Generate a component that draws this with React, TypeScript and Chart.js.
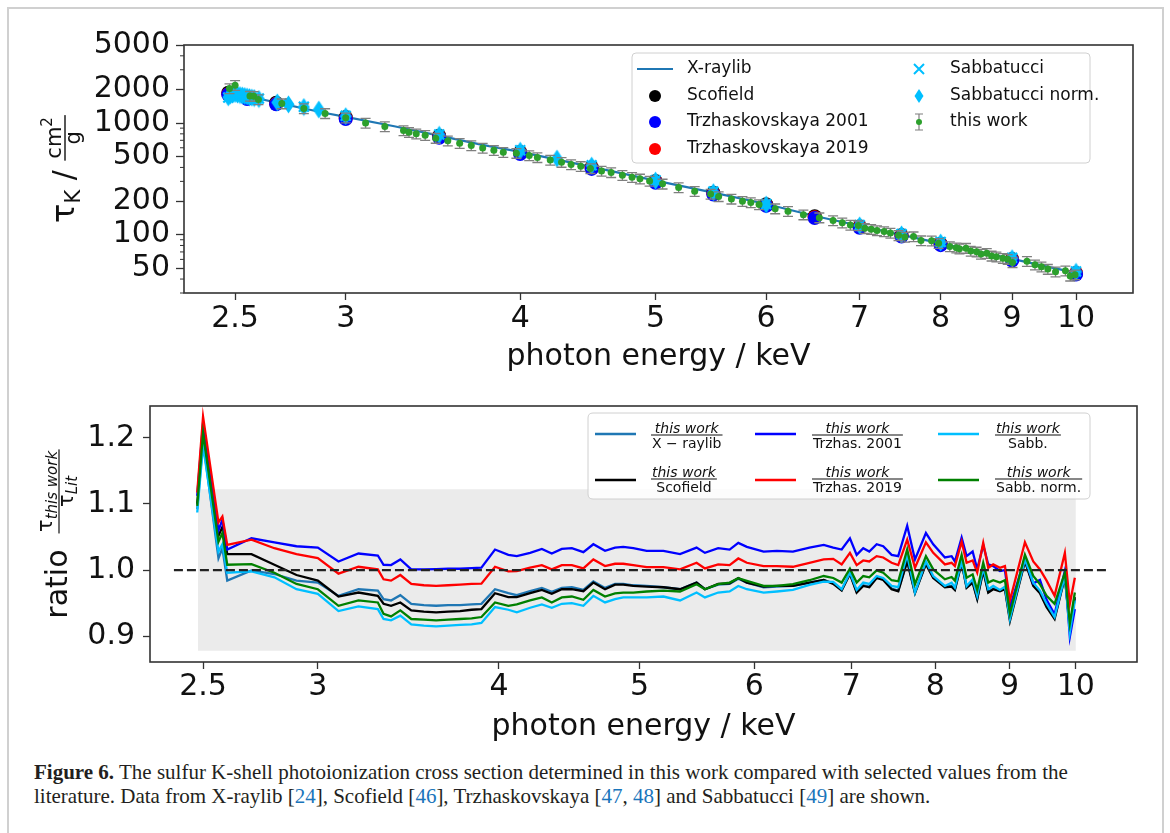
import React, { useEffect, useRef } from 'react';
import { Chart, registerables } from 'chart.js';

Chart.register(...registerables);

const FONT = '"DejaVu Sans", "Noto Sans", sans-serif';

// ---------------- top panel data ----------------
const xraylibEnergy = [2.472, 2.5, 2.6, 2.7, 2.8, 2.9, 3.0, 3.25, 3.5, 3.75, 4.0, 4.5, 5.0, 5.5, 6.0, 6.5, 7.0, 7.5, 8.0, 8.5, 9.0, 9.5, 10.0];
const xraylibTau = [1880, 1835, 1650, 1490, 1350, 1230, 1135, 935, 770, 640, 552, 405, 305, 238, 188, 147, 120, 99.5, 83.5, 71, 60.6, 52.3, 45.5];

const litEnergy = [2.472, 2.55, 2.675, 3.0, 3.5, 4.0, 4.5, 5.0, 5.5, 6.0, 6.5, 7.0, 7.5, 8.0, 9.0, 10.0];
const scofieldTau = [1870, 1700, 1520, 1130, 770, 550, 402, 303, 237, 187, 146, 119, 99, 83, 60.5, 45.3];
const trzh2001Tau = [1800, 1640, 1470, 1085, 738, 528, 388, 292, 229, 181, 141, 115, 96, 80.5, 58.5, 44];
const trzh2019Tau = [1810, 1655, 1485, 1100, 750, 537, 393, 296, 232, 183, 143, 117, 97.5, 81.5, 59.5, 44.8];

const sabbEnergy = [2.472, 2.5, 2.55, 2.6, 2.7, 2.8, 3.0, 3.5, 4.0, 4.5, 5.0, 5.5, 6.0, 7.0, 7.5, 8.0, 9.0, 10.0];
const sabbTau = [1690, 1830, 1735, 1655, 1500, 1400, 1160, 790, 570, 418, 308, 243, 188, 122, 101.5, 86, 62, 46.8];

const sabbNormEnergy = [2.472, 2.48, 2.49, 2.5, 2.51, 2.52, 2.53, 2.54, 2.55, 2.56, 2.57, 2.58, 2.6, 2.68, 2.73, 2.8, 2.87, 3.0, 3.5, 4.0, 4.25, 4.5, 5.0, 5.5, 6.0, 7.0, 7.5, 8.0, 9.0, 10.0];
const sabbNormTau = [1700, 1760, 1800, 1820, 1800, 1780, 1760, 1745, 1725, 1705, 1690, 1675, 1640, 1530, 1470, 1390, 1320, 1150, 785, 565, 480, 415, 305, 240, 186, 121, 100.5, 85, 61.5, 46.5];

const thisWorkEnergy = [
  2.477, 2.5, 2.562, 2.578, 2.598, 2.7, 2.8, 2.9, 3.0, 3.1, 3.2, 3.3, 3.33, 3.37, 3.42, 3.48, 3.55, 3.62, 3.69, 3.76, 3.83, 3.89, 3.975, 4.06,
  4.115, 4.203, 4.282, 4.35, 4.42, 4.491, 4.574, 4.647, 4.734, 4.81, 4.873, 4.951, 5.058, 5.194, 5.333, 5.475, 5.548, 5.666, 5.77, 5.85, 5.93, 6.09, 6.22, 6.38, 6.55, 6.7,
  6.802, 6.894, 6.985, 7.06, 7.134, 7.203, 7.288, 7.364, 7.463, 7.542, 7.65, 7.745, 7.881, 7.973, 8.122, 8.209, 8.252, 8.341, 8.407, 8.488, 8.55, 8.632, 8.701, 8.77, 8.864, 8.935, 9.006, 9.223, 9.346, 9.446, 9.546, 9.668, 9.827, 9.905, 9.984,
];
const thisWorkTau = [
  2040, 2178, 1742, 1739, 1624, 1492, 1350, 1220, 1113, 1001, 932, 858, 827, 800, 777, 732, 694, 659, 628, 598, 570, 548, 537, 511,
  492, 467, 446, 425, 409, 392, 372, 361, 340, 327, 316, 302, 285, 264, 245, 231, 220, 209, 199, 194, 186, 171, 162, 151, 142, 134,
  128, 122, 120.5, 113.8, 111.8, 108.7, 106.8, 103.4, 98.5, 95.3, 96.0, 88.4, 88.1, 83.7, 78.4, 76.3, 74.8, 75.7, 71.4, 70.1, 67.0, 68.1, 64.5, 63.4, 61.4, 60.3, 56.4, 57.7, 53.7, 51.5, 49.1, 46.5, 47.4, 42.7, 43.8,
];
const thisWorkRelUncertainty = 0.1;

// ---------------- bottom panel data (ratios on thisWorkEnergy) ----------------
const ratioXraylib = [
  1.092, 1.195, 1.018, 1.033, 0.984, 0.9995, 0.994, 0.984, 0.981, 0.961, 0.971, 0.969, 0.956, 0.954, 0.962, 0.949, 0.947, 0.946, 0.947, 0.947, 0.948, 0.949, 0.971, 0.965,
  0.962, 0.968, 0.973, 0.967, 0.973, 0.974, 0.970, 0.983, 0.973, 0.979, 0.979, 0.977, 0.976, 0.974, 0.971, 0.981, 0.971, 0.978, 0.979, 0.987, 0.981, 0.974, 0.975, 0.976, 0.981, 0.985,
  0.980, 0.970, 0.995, 0.967, 0.977, 0.975, 0.989, 0.986, 0.972, 0.969, 1.014, 0.966, 1.010, 0.989, 0.975, 0.976, 0.971, 1.012, 0.974, 0.982, 0.957, 1.000, 0.967, 0.972, 0.969, 0.972, 0.926, 1.014, 0.977, 0.966, 0.946, 0.928, 0.990, 0.912, 0.957,
];
const ratioScofield = [
  1.100, 1.203, 1.052, 1.065, 1.024, 1.024, 1.008, 0.9925, 0.984, 0.960, 0.966, 0.961, 0.949, 0.946, 0.951, 0.939, 0.937, 0.936, 0.937, 0.938, 0.940, 0.941, 0.965, 0.959,
  0.959, 0.965, 0.970, 0.964, 0.971, 0.971, 0.968, 0.981, 0.971, 0.978, 0.978, 0.976, 0.975, 0.974, 0.971, 0.981, 0.971, 0.979, 0.980, 0.988, 0.981, 0.975, 0.976, 0.976, 0.981, 0.985,
  0.979, 0.969, 0.994, 0.966, 0.976, 0.974, 0.988, 0.985, 0.971, 0.968, 1.013, 0.965, 1.009, 0.988, 0.974, 0.975, 0.970, 1.011, 0.973, 0.981, 0.956, 0.999, 0.966, 0.971, 0.968, 0.971, 0.923, 1.013, 0.976, 0.965, 0.944, 0.926, 0.989, 0.915, 0.959,
];
const ratioTrzh2001 = [
  1.112, 1.222, 1.060, 1.076, 1.031, 1.048, 1.042, 1.036, 1.034, 1.013, 1.025, 1.022, 1.008, 1.0075, 1.016, 1.001, 1.001, 1.0015, 1.002, 1.002, 1.003, 1.0035, 1.031, 1.023,
  1.021, 1.026, 1.032, 1.025, 1.032, 1.033, 1.027, 1.039, 1.029, 1.034, 1.035, 1.033, 1.029, 1.029, 1.024, 1.034, 1.026, 1.033, 1.031, 1.041, 1.035, 1.028, 1.029, 1.028, 1.034, 1.038,
  1.034, 1.031, 1.048, 1.023, 1.033, 1.028, 1.039, 1.036, 1.023, 1.021, 1.067, 1.016, 1.056, 1.039, 1.019, 1.021, 1.013, 1.049, 1.021, 1.028, 1.001, 1.038, 1.0085, 1.006, 0.9985, 1.000, 0.944, 1.018, 0.980, 0.985, 0.955, 0.933, 0.999, 0.899, 0.941,
];
const ratioTrzh2019 = [
  1.117, 1.232, 1.072, 1.081, 1.038, 1.046, 1.033, 1.024, 1.018, 0.9945, 1.005, 1.001, 0.986, 0.984, 0.9925, 0.979, 0.977, 0.976, 0.977, 0.978, 0.979, 0.9795, 1.005, 0.998,
  0.9985, 1.0035, 1.0075, 1.001, 1.0075, 1.0075, 1.0025, 1.016, 1.006, 1.0095, 1.0095, 1.0075, 1.0045, 1.0045, 1.001, 1.011, 1.0025, 1.0085, 1.0075, 1.0175, 1.011, 1.006, 1.006, 1.005, 1.011, 1.016,
  1.017, 1.0085, 1.026, 1.0075, 1.0145, 1.013, 1.021, 1.019, 1.011, 1.0075, 1.046, 1.0035, 1.042, 1.026, 1.0085, 1.011, 1.006, 1.043, 1.011, 1.0145, 0.996, 1.041, 1.0035, 1.0085, 1.0035, 1.006, 0.954, 1.042, 1.013, 1.001, 0.984, 0.961, 1.026, 0.949, 0.9885,
];
const ratioSabb = [
  1.087, 1.188, 1.028, 1.039, 0.996, 0.998, 0.989, 0.971, 0.964, 0.938, 0.945, 0.941, 0.926, 0.924, 0.931, 0.918, 0.916, 0.915, 0.916, 0.917, 0.918, 0.920, 0.944, 0.940,
  0.936, 0.943, 0.948, 0.943, 0.949, 0.950, 0.946, 0.961, 0.951, 0.956, 0.9587, 0.9587, 0.9587, 0.960, 0.954, 0.966, 0.9587, 0.966, 0.9676, 0.976, 0.971, 0.966, 0.9676, 0.970, 0.9776, 0.9825,
  0.982, 0.971, 0.996, 0.970, 0.981, 0.979, 0.991, 0.988, 0.976, 0.974, 1.023, 0.966, 1.013, 0.991, 0.976, 0.981, 0.9736, 1.013, 0.976, 0.986, 0.961, 1.0035, 0.971, 0.976, 0.970, 0.975, 0.926, 1.016, 0.981, 0.969, 0.949, 0.929, 0.991, 0.906, 0.954,
];
const ratioSabbNorm = [
  1.097, 1.207, 1.043, 1.056, 1.008, 1.009, 0.996, 0.979, 0.971, 0.946, 0.954, 0.951, 0.934, 0.930, 0.939, 0.926, 0.925, 0.924, 0.925, 0.926, 0.927, 0.929, 0.951, 0.946,
  0.948, 0.954, 0.9587, 0.951, 0.9587, 0.960, 0.955, 0.970, 0.960, 0.9646, 0.966, 0.966, 0.9676, 0.969, 0.9676, 0.9786, 0.971, 0.9786, 0.981, 0.9876, 0.9836, 0.976, 0.976, 0.9786, 0.9846, 0.991,
  0.988, 0.981, 1.002, 0.981, 0.991, 0.989, 0.9995, 0.996, 0.9846, 0.983, 1.031, 0.9786, 1.021, 1.001, 0.986, 0.9895, 0.984, 1.023, 0.9885, 0.9935, 0.970, 1.011, 0.981, 0.9846, 0.981, 0.9846, 0.934, 1.023, 0.991, 0.9786, 0.961, 0.949, 0.996, 0.919, 0.966,
];

const bandEnergy = [2.48, 10.0];
const bandUpper = [1.122, 1.122];
const bandLower = [0.878, 0.878];
const refLineEnergy = [2.387, 10.55];
const refLineRatio = [1.0, 1.0];

// ---------------- ticks ----------------
const energyTicks = [2.5, 3, 4, 5, 6, 7, 8, 9, 10];
const tauTicks = [50, 100, 200, 500, 1000, 2000, 5000];
const tauMinorTicks = [30, 40, 60, 70, 80, 90, 300, 400, 600, 700, 800, 900, 3000, 4000];
const ratioTicks = [0.9, 1.0, 1.1, 1.2];

const C_XRAY = '#1f77b4';
const C_SAB = '#00bfff';
const TXT = '#111111';

const pts = (xs: number[], ys: number[]) => xs.map((x, i) => ({ x, y: ys[i] }));

function setFont(ctx: CanvasRenderingContext2D, size: number, style = '') {
  ctx.font = `${style} ${size}px ${FONT}`.trim();
}

function roundRect(ctx: CanvasRenderingContext2D, x: number, y: number, w: number, h: number, r: number) {
  ctx.beginPath();
  ctx.moveTo(x + r, y);
  ctx.lineTo(x + w - r, y);
  ctx.quadraticCurveTo(x + w, y, x + w, y + r);
  ctx.lineTo(x + w, y + h - r);
  ctx.quadraticCurveTo(x + w, y + h, x + w - r, y + h);
  ctx.lineTo(x + r, y + h);
  ctx.quadraticCurveTo(x, y + h, x, y + h - r);
  ctx.lineTo(x, y + r);
  ctx.quadraticCurveTo(x, y, x + r, y);
  ctx.closePath();
}

function diamondPath(ctx: CanvasRenderingContext2D, cx: number, cy: number, hw: number, hh: number) {
  ctx.beginPath();
  ctx.moveTo(cx, cy - hh);
  ctx.lineTo(cx + hw, cy);
  ctx.lineTo(cx, cy + hh);
  ctx.lineTo(cx - hw, cy);
  ctx.closePath();
}

function makeDiamond(): HTMLCanvasElement {
  const c = document.createElement('canvas');
  c.width = 13;
  c.height = 19;
  const ctx = c.getContext('2d')!;
  ctx.fillStyle = C_SAB;
  diamondPath(ctx, 6.5, 9.5, 6, 9);
  ctx.fill();
  return c;
}

function drawFrame(chart: any) {
  const { ctx, chartArea: a } = chart;
  ctx.save();
  ctx.strokeStyle = '#333333';
  ctx.lineWidth = 1.6;
  ctx.strokeRect(a.left, a.top, a.right - a.left, a.bottom - a.top);
  ctx.restore();
}

function commonTickFont() {
  return { family: FONT, size: 30 };
}

// ---------------- top chart ----------------
function buildTop(diamond: HTMLCanvasElement): any {
  const topPlugin = {
    id: 'topDecor',
    beforeDatasetDraw(chart: any, args: any) {
      if (args.index !== 6) return;
      const { ctx } = chart;
      const xs = chart.scales.x;
      const ys = chart.scales.y;
      ctx.save();
      ctx.strokeStyle = '#7f7f7f';
      ctx.lineWidth = 1.3;
      thisWorkEnergy.forEach((e, i) => {
        const t = thisWorkTau[i];
        const px = xs.getPixelForValue(e);
        const y1 = ys.getPixelForValue(t * (1 + thisWorkRelUncertainty));
        const y2 = ys.getPixelForValue(t * (1 - thisWorkRelUncertainty));
        ctx.beginPath();
        ctx.moveTo(px, y1);
        ctx.lineTo(px, y2);
        ctx.moveTo(px - 5, y1);
        ctx.lineTo(px + 5, y1);
        ctx.moveTo(px - 5, y2);
        ctx.lineTo(px + 5, y2);
        ctx.stroke();
      });
      ctx.restore();
    },
    afterDatasetsDraw(chart: any) {
      drawFrame(chart);
      const { ctx, chartArea: a } = chart;
      const ys = chart.scales.y;
      ctx.save();
      ctx.strokeStyle = '#333333';
      ctx.lineWidth = 1;
      tauMinorTicks.forEach((v) => {
        const py = ys.getPixelForValue(v);
        ctx.beginPath();
        ctx.moveTo(a.left, py);
        ctx.lineTo(a.left - 4, py);
        ctx.stroke();
      });
      ctx.restore();
    },
    afterDraw(chart: any) {
      const { ctx, chartArea: a } = chart;
      ctx.save();
      // x title
      setFont(ctx, 30);
      ctx.fillStyle = TXT;
      ctx.textAlign = 'center';
      ctx.textBaseline = 'alphabetic';
      ctx.fillText('photon energy / keV', (a.left + a.right) / 2, 365);

      // y title (rotated)
      ctx.save();
      ctx.translate(61, (a.top + a.bottom) / 2);
      ctx.rotate(-Math.PI / 2);
      ctx.textAlign = 'left';
      const base = 13;
      setFont(ctx, 32);
      const wTau = ctx.measureText('τ').width;
      setFont(ctx, 30);
      const wSl = ctx.measureText(' / ').width;
      setFont(ctx, 21);
      const wK = ctx.measureText('K').width;
      const wcm = ctx.measureText('cm').width;
      const wg = ctx.measureText('g').width;
      setFont(ctx, 15);
      const w2 = ctx.measureText('2').width;
      const wNum = wcm + w2;
      const wFrac = Math.max(wNum, wg) + 4;
      const total = wTau + wK + wSl + wFrac;
      let x = -total / 2;
      setFont(ctx, 32);
      ctx.fillText('τ', x, base);
      x += wTau;
      setFont(ctx, 21);
      ctx.fillText('K', x, base + 6);
      x += wK;
      setFont(ctx, 30);
      ctx.fillText(' / ', x, base);
      x += wSl;
      const barY = base - 9;
      ctx.fillRect(x, barY - 0.7, wFrac, 1.4);
      const nx = x + (wFrac - wNum) / 2;
      setFont(ctx, 21);
      ctx.fillText('cm', nx, barY - 4);
      setFont(ctx, 15);
      ctx.fillText('2', nx + wcm, barY - 13);
      setFont(ctx, 21);
      ctx.fillText('g', x + (wFrac - wg) / 2, barY + 15);
      ctx.restore();

      // legend
      roundRect(ctx, 632, 53, 458, 110, 4);
      ctx.fillStyle = 'rgba(255,255,255,0.85)';
      ctx.fill();
      ctx.strokeStyle = '#d0d0d0';
      ctx.lineWidth = 1;
      ctx.stroke();

      const rows = [69, 96, 122, 149];
      setFont(ctx, 17);
      ctx.textAlign = 'left';
      ctx.textBaseline = 'middle';
      const labels1 = ['X-raylib', 'Scofield', 'Trzhaskovskaya 2001', 'Trzhaskovskaya 2019'];
      const labels2 = ['Sabbatucci', 'Sabbatucci norm.', 'this work'];
      ctx.strokeStyle = C_XRAY;
      ctx.lineWidth = 2.2;
      ctx.beginPath();
      ctx.moveTo(637, rows[0]);
      ctx.lineTo(673, rows[0]);
      ctx.stroke();
      const dotCols = ['#000000', '#0000ff', '#ff0000'];
      dotCols.forEach((c, i) => {
        ctx.fillStyle = c;
        ctx.beginPath();
        ctx.arc(655, rows[i + 1], 6, 0, Math.PI * 2);
        ctx.fill();
      });
      ctx.strokeStyle = C_SAB;
      ctx.lineWidth = 2;
      ctx.beginPath();
      ctx.moveTo(914, rows[0] - 5);
      ctx.lineTo(924, rows[0] + 5);
      ctx.moveTo(924, rows[0] - 5);
      ctx.lineTo(914, rows[0] + 5);
      ctx.stroke();
      ctx.fillStyle = C_SAB;
      diamondPath(ctx, 919, rows[1], 4.5, 7);
      ctx.fill();
      ctx.strokeStyle = '#7f7f7f';
      ctx.lineWidth = 1.2;
      ctx.beginPath();
      ctx.moveTo(919, rows[2] - 8);
      ctx.lineTo(919, rows[2] + 8);
      ctx.moveTo(915, rows[2] - 8);
      ctx.lineTo(923, rows[2] - 8);
      ctx.moveTo(915, rows[2] + 8);
      ctx.lineTo(923, rows[2] + 8);
      ctx.stroke();
      ctx.fillStyle = '#2ca02c';
      ctx.beginPath();
      ctx.arc(919, rows[2], 3, 0, Math.PI * 2);
      ctx.fill();

      ctx.fillStyle = TXT;
      labels1.forEach((l, i) => ctx.fillText(l, 687, rows[i]));
      labels2.forEach((l, i) => ctx.fillText(l, 950, rows[i]));
      ctx.restore();
    },
  };

  return {
    type: 'scatter',
    data: {
      datasets: [
        { label: 'X-raylib', data: pts(xraylibEnergy, xraylibTau), showLine: true, borderColor: C_XRAY, borderWidth: 2.2, pointRadius: 0, order: 7 },
        { label: 'Scofield', data: pts(litEnergy, scofieldTau), pointRadius: 7, backgroundColor: '#000000', borderWidth: 0, order: 6 },
        { label: 'Trzhaskovskaya 2001', data: pts(litEnergy, trzh2001Tau), pointRadius: 7, backgroundColor: '#0000ff', borderWidth: 0, order: 4 },
        { label: 'Trzhaskovskaya 2019', data: pts(litEnergy, trzh2019Tau), pointRadius: 7, backgroundColor: '#ff0000', borderWidth: 0, order: 5 },
        { label: 'Sabbatucci', data: pts(sabbEnergy, sabbTau), pointStyle: 'crossRot', pointRadius: 7, borderColor: C_SAB, backgroundColor: C_SAB, borderWidth: 2.2, order: 3 },
        { label: 'Sabbatucci norm.', data: pts(sabbNormEnergy, sabbNormTau), pointStyle: diamond, pointRadius: 8, order: 2 },
        { label: 'this work', data: pts(thisWorkEnergy, thisWorkTau), pointRadius: 3.5, backgroundColor: '#2ca02c', borderWidth: 0, order: 1 },
      ],
    },
    options: {
      responsive: false,
      animation: false,
      devicePixelRatio: 1,
      layout: { padding: { left: 0, right: 37, top: 45, bottom: 0 } },
      plugins: { legend: { display: false }, tooltip: { enabled: false } },
      events: [],
      scales: {
        x: {
          type: 'logarithmic',
          min: 2.298,
          max: 10.985,
          bounds: 'data',
          afterBuildTicks: (s: any) => {
            s.ticks = energyTicks.map((v) => ({ value: v }));
          },
          afterFit: (s: any) => {
            s.height = 87;
          },
          ticks: { callback: (v: any) => String(v), font: commonTickFont(), color: TXT, padding: 1, maxRotation: 0, autoSkip: false },
          grid: { drawOnChartArea: false, drawTicks: true, tickLength: 7, tickColor: '#333333', tickWidth: 1.3 },
          border: { display: false },
        },
        y: {
          type: 'logarithmic',
          min: 30,
          max: 5000,
          bounds: 'data',
          afterBuildTicks: (s: any) => {
            s.ticks = tauTicks.map((v) => ({ value: v }));
          },
          afterFit: (s: any) => {
            s.width = 184;
          },
          ticks: { callback: (v: any) => String(v), font: commonTickFont(), color: TXT, padding: 6, autoSkip: false },
          grid: { drawOnChartArea: false, drawTicks: true, tickLength: 8, tickColor: '#333333', tickWidth: 1.3 },
          border: { display: false },
        },
      },
    },
    plugins: [topPlugin],
  };
}

// ---------------- bottom chart ----------------
function buildBottom(): any {
  const legendItems = [
    { color: C_XRAY, den: 'X − raylib', lineX: 595, fracX: 651, row: 0 },
    { color: '#000000', den: 'Scofield', lineX: 595, fracX: 651, row: 1 },
    { color: '#0000ff', den: 'Trzhas. 2001', lineX: 755, fracX: 812, row: 0 },
    { color: '#ff0000', den: 'Trzhas. 2019', lineX: 755, fracX: 812, row: 1 },
    { color: C_SAB, den: 'Sabb.', lineX: 938, fracX: 995, row: 0 },
    { color: '#008000', den: 'Sabb. norm.', lineX: 938, fracX: 995, row: 1 },
  ];

  const botPlugin = {
    id: 'botDecor',
    afterDatasetsDraw(chart: any) {
      drawFrame(chart);
    },
    afterDraw(chart: any) {
      const { ctx, chartArea: a } = chart;
      ctx.save();
      setFont(ctx, 30);
      ctx.fillStyle = TXT;
      ctx.textAlign = 'center';
      ctx.textBaseline = 'alphabetic';
      ctx.fillText('photon energy / keV', (a.left + a.right) / 2, 355);

      // y title
      ctx.save();
      ctx.translate(55, (a.top + a.bottom) / 2);
      ctx.rotate(-Math.PI / 2);
      ctx.textAlign = 'left';
      const base = 12;
      setFont(ctx, 30);
      const wRatio = ctx.measureText('ratio').width;
      setFont(ctx, 21);
      const wTau = ctx.measureText('τ').width;
      setFont(ctx, 15, 'italic');
      const wSubN = ctx.measureText('this work').width;
      const wSubD = ctx.measureText('Lit').width;
      const wNum = wTau + wSubN;
      const wDen = wTau + wSubD;
      const wFrac = Math.max(wNum, wDen) + 3;
      const gap = 16;
      let x = -(wRatio + gap + wFrac) / 2;
      setFont(ctx, 30);
      ctx.fillText('ratio', x, base);
      x += wRatio + gap;
      const barY = base - 8;
      ctx.fillRect(x, barY - 0.6, wFrac, 1.2);
      const nx = x + (wFrac - wNum) / 2;
      setFont(ctx, 21);
      ctx.fillText('τ', nx, barY - 7);
      setFont(ctx, 15, 'italic');
      ctx.fillText('this work', nx + wTau, barY - 2.5);
      const dx = x + (wFrac - wDen) / 2;
      setFont(ctx, 21);
      ctx.fillText('τ', dx, barY + 14);
      setFont(ctx, 15, 'italic');
      ctx.fillText('Lit', dx + wTau, barY + 18);
      ctx.restore();

      // legend
      roundRect(ctx, 588, 33, 502, 86, 5);
      ctx.fillStyle = 'rgba(255,255,255,0.82)';
      ctx.fill();
      ctx.strokeStyle = '#d0d0d0';
      ctx.lineWidth = 1;
      ctx.stroke();
      const lineYs = [54, 100];
      const barYs = [55, 99];
      legendItems.forEach((it) => {
        ctx.strokeStyle = it.color;
        ctx.lineWidth = 2.4;
        ctx.beginPath();
        ctx.moveTo(it.lineX, lineYs[it.row]);
        ctx.lineTo(it.lineX + 41, lineYs[it.row]);
        ctx.stroke();
        const by = barYs[it.row];
        setFont(ctx, 14, 'italic');
        const wn = ctx.measureText('this work').width;
        setFont(ctx, 14);
        const wd = ctx.measureText(it.den).width;
        const w = Math.max(wn, wd) + 2;
        ctx.fillStyle = TXT;
        ctx.textAlign = 'center';
        ctx.textBaseline = 'alphabetic';
        setFont(ctx, 14, 'italic');
        ctx.fillText('this work', it.fracX + w / 2, by - 2.5);
        setFont(ctx, 14);
        ctx.fillText(it.den, it.fracX + w / 2, by + 12.5);
        ctx.fillRect(it.fracX, by - 0.5, w, 1);
      });
      ctx.restore();
    },
  };

  const line = (label: string, ys: number[], color: string, order: number) => ({
    label,
    data: pts(thisWorkEnergy, ys),
    showLine: true,
    borderColor: color,
    backgroundColor: color,
    borderWidth: 2.3,
    pointRadius: 0,
    order,
  });

  return {
    type: 'scatter',
    data: {
      datasets: [
        { label: 'band upper', data: pts(bandEnergy, bandUpper), showLine: true, borderColor: 'rgba(0,0,0,0)', borderWidth: 0, pointRadius: 0, fill: '+1', backgroundColor: '#ebebeb', order: 20 },
        { label: 'band lower', data: pts(bandEnergy, bandLower), showLine: true, borderColor: 'rgba(0,0,0,0)', borderWidth: 0, pointRadius: 0, order: 21 },
        line('this work / X-raylib', ratioXraylib, C_XRAY, 8),
        line('this work / Scofield', ratioScofield, '#000000', 7),
        line('this work / Trzhas. 2001', ratioTrzh2001, '#0000ff', 6),
        line('this work / Trzhas. 2019', ratioTrzh2019, '#ff0000', 5),
        line('this work / Sabb.', ratioSabb, C_SAB, 4),
        line('this work / Sabb. norm.', ratioSabbNorm, '#008000', 3),
        { label: 'unity', data: pts(refLineEnergy, refLineRatio), showLine: true, borderColor: '#222222', borderWidth: 2.3, borderDash: [9, 4], pointRadius: 0, order: 0 },
      ],
    },
    options: {
      responsive: false,
      animation: false,
      devicePixelRatio: 1,
      layout: { padding: { left: 0, right: 33, top: 22, bottom: 0 } },
      plugins: { legend: { display: false }, tooltip: { enabled: false } },
      events: [],
      scales: {
        x: {
          type: 'logarithmic',
          min: 2.298,
          max: 11.02,
          bounds: 'data',
          afterBuildTicks: (s: any) => {
            s.ticks = energyTicks.map((v) => ({ value: v }));
          },
          afterFit: (s: any) => {
            s.height = 88;
          },
          ticks: { callback: (v: any) => String(v), font: commonTickFont(), color: TXT, padding: 0, maxRotation: 0, autoSkip: false },
          grid: { drawOnChartArea: false, drawTicks: true, tickLength: 7, tickColor: '#333333', tickWidth: 1.3 },
          border: { display: false },
        },
        y: {
          type: 'linear',
          min: 0.861,
          max: 1.248,
          bounds: 'data',
          afterBuildTicks: (s: any) => {
            s.ticks = ratioTicks.map((v) => ({ value: v }));
          },
          afterFit: (s: any) => {
            s.width = 150;
          },
          ticks: { callback: (v: any) => Number(v).toFixed(1), font: commonTickFont(), color: TXT, padding: 8, autoSkip: false },
          grid: { drawOnChartArea: false, drawTicks: true, tickLength: 7, tickColor: '#333333', tickWidth: 1.3 },
          border: { display: false },
        },
      },
    },
    plugins: [botPlugin],
  };
}

export default function App() {
  const topRef = useRef<HTMLCanvasElement>(null);
  const botRef = useRef<HTMLCanvasElement>(null);

  useEffect(() => {
    const diamond = makeDiamond();
    const top = new Chart(topRef.current as HTMLCanvasElement, buildTop(diamond));
    const bot = new Chart(botRef.current as HTMLCanvasElement, buildBottom());
    return () => {
      top.destroy();
      bot.destroy();
    };
  }, []);

  const ref = { color: '#1a75bb' };
  return (
    <div style={{ position: 'absolute', left: 0, top: 0, width: 1170, height: 833, overflow: 'hidden', background: '#ffffff' }}>
      <div style={{ position: 'absolute', left: 7, top: 7, width: 1153, height: 900, border: '2px solid #d0d0d0' }} />
      <canvas ref={topRef} width={1170} height={380} style={{ position: 'absolute', left: 0, top: 0, width: 1170, height: 380 }} />
      <canvas ref={botRef} width={1170} height={370} style={{ position: 'absolute', left: 0, top: 380, width: 1170, height: 370 }} />
      <div
        style={{
          position: 'absolute',
          left: 34,
          top: 760,
          fontFamily: '"Liberation Serif", "DejaVu Serif", serif',
          fontSize: 21,
          lineHeight: '24px',
          color: '#231f20',
          whiteSpace: 'nowrap',
        }}
      >
        <div>
          <b>Figure 6.</b> The sulfur K-shell photoionization cross section determined in this work compared with selected values from the
        </div>
        <div>
          literature. Data from X-raylib [<span style={ref}>24</span>], Scofield [<span style={ref}>46</span>], Trzhaskovskaya [<span style={ref}>47</span>, <span style={ref}>48</span>] and Sabbatucci [<span style={ref}>49</span>] are shown.
        </div>
      </div>
    </div>
  );
}
